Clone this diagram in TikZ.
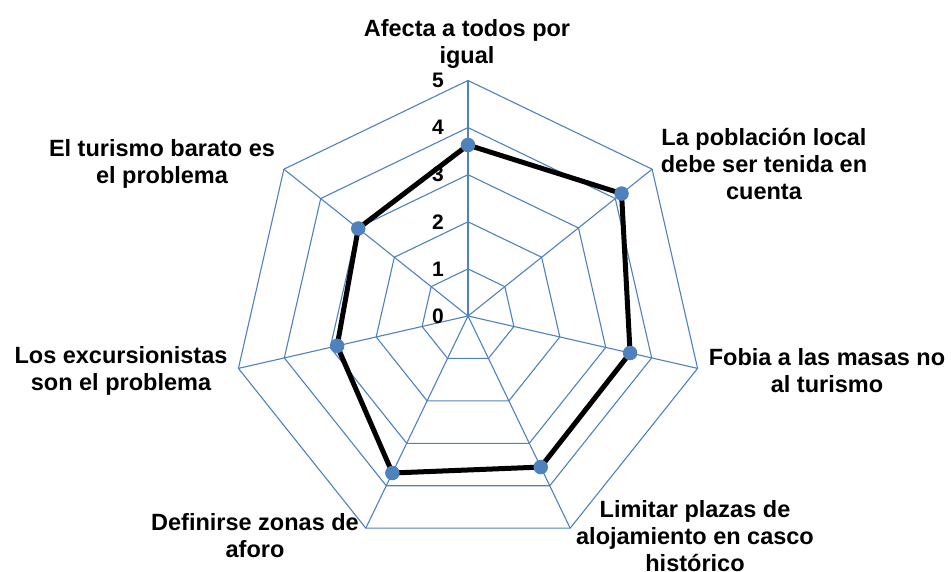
\documentclass[tikz,border=0pt]{standalone}
\usepackage{fontspec}
\setmainfont{Liberation Sans}
\definecolor{gridblue}{RGB}{79,129,189}
\definecolor{markblue}{RGB}{79,129,189}
\begin{document}
\begin{tikzpicture}[
  grid/.style={draw=gridblue, line width=1.1pt},
  series/.style={draw=black, line width=5pt, line join=round},
  marker/.style={circle, fill=markblue, inner sep=0pt, minimum size=14.5pt},
  lbl/.style={font=\fontsize{23.5}{27}\selectfont\bfseries, align=center, inner sep=0pt},
  tick/.style={font=\fontsize{21}{23}\selectfont\bfseries, anchor=east, inner sep=0pt}
]
\useasboundingbox (-468pt,-255pt) rectangle (483pt,316pt);
\def\R{47.1pt}
% rings
\foreach \r in {1,...,5}{
  \draw[grid] (90:\r*\R) \foreach \k in {1,...,6}{ -- ({90-\k*360/7}:\r*\R)} -- cycle;
}
% spokes
\foreach \k in {0,...,6}{
  \coordinate (v\k) at ({90-\k*360/7}:5*\R);
  \draw[grid] (0,0) -- (v\k);
}
% tick labels
\foreach \t in {0,...,5}{
  \node[tick] (t\t) at (-24pt,\t*\R) {\t};
}
% data points
\coordinate (p0) at ({90-0*360/7}:3.63*\R);
\coordinate (p1) at ({90-1*360/7}:4.17*\R);
\coordinate (p2) at ({90-2*360/7}:3.53*\R);
\coordinate (p3) at ({90-3*360/7}:3.56*\R);
\coordinate (p4) at ({90-4*360/7}:3.70*\R);
\coordinate (p5) at ({90-5*360/7}:2.85*\R);
\coordinate (p6) at ({90-6*360/7}:2.98*\R);
\draw[series] (p0) -- (p1) -- (p2) -- (p3) -- (p4) -- (p5) -- (p6) -- cycle;
\foreach \k in {0,...,6}{
  \node[marker] (m\k) at (p\k) {};
}
% axis labels
\node[lbl] (l0) at (-1pt,272pt) {Afecta a todos por\\igual};
\node[lbl] (l1) at (296pt,152pt) {La población local\\debe ser tenida en\\cuenta};
\node[lbl] (l2) at (359pt,-55pt) {Fobia a las masas no\\al turismo};
\node[lbl] (l3) at (227pt,-220pt) {Limitar plazas de\\alojamiento en casco\\histórico};
\node[lbl] (l4) at (-213pt,-220pt) {Definirse zonas de\\aforo};
\node[lbl] (l5) at (-347pt,-55pt) {Los excursionistas\\son el problema};
\node[lbl] (l6) at (-306pt,152pt) {El turismo barato es\\el problema};
\end{tikzpicture}
\end{document}
